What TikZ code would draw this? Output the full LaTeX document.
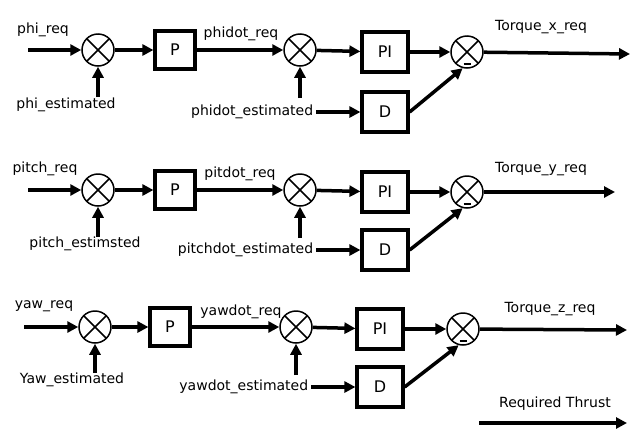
\documentclass[tikz,border=0pt]{standalone}
\usepackage{fontspec}
\setmainfont{DejaVu Sans}
\usetikzlibrary{arrows.meta,positioning}
\definecolor{inkcolor}{HTML}{000000}
\tikzset{
  lbl/.style={font=\fontsize{14}{16}\selectfont, text=inkcolor, inner sep=3pt},
  blk/.style={draw=inkcolor, line width=3.2pt, fill=white, minimum width=40pt, minimum height=38pt, inner sep=0pt, font=\fontsize{16}{18}\selectfont},
  blkwide/.style={blk, minimum width=46pt, minimum height=40pt},
  sumjn/.style={circle, draw=inkcolor, line width=1.5pt, minimum size=32pt, inner sep=0pt,
    path picture={\draw[line width=1.5pt] (path picture bounding box.north west) -- (path picture bounding box.south east)
      (path picture bounding box.north east) -- (path picture bounding box.south west);}},
  sumneg/.style={sumjn,
    path picture={\draw[line width=1.5pt] (path picture bounding box.north west) -- (path picture bounding box.south east)
      (path picture bounding box.north east) -- (path picture bounding box.south west);
      \draw[line width=2.6pt] ([xshift=-3.5pt,yshift=-12pt]path picture bounding box.center) -- ++(7pt,0pt);}},
  flow/.style={-{Triangle[length=11pt,width=11pt]}, draw=inkcolor, line width=3.5pt},
}

\begin{document}
\begin{tikzpicture}[x=1pt,y=-1pt]
  \useasboundingbox (0,0) rectangle (644,445);

  % roll
  \coordinate (in1) at (28,50);
  \coordinate (est11) at (98,97);
  \coordinate (est12) at (300,98);
  \coordinate (out1) at (630,54);
  \node[sumjn] (s11) at (98,50) {};
  \node[blk] (p1) at (175,50) {P};
  \node[sumjn] (s12) at (300,50) {};
  \node[blkwide] (pi1) at (385,52) {PI};
  \node[blkwide] (d1) at (385,112) {D};
  \node[sumneg] (s13) at (467,52) {};
  \node[lbl] at (43,30) {phi\_req};
  \node[lbl] at (66,105) {phi\_estimated};
  \node[lbl] at (241,34) {phidot\_req};
  \node[lbl, left=44pt of d1] (pde1) {phidot\_estimated};
  \node[lbl] at (541,27) {Torque\_x\_req};

  \draw[flow] (in1) -- (s11);
  \draw[flow] (est11) -- (s11);
  \draw[flow] (s11) -- (p1);
  \draw[flow] (p1) -- (s12);
  \draw[flow] (est12) -- (s12);
  \draw[flow] (s12) -- (pi1);
  \draw[flow] (pi1) -- (s13);
  \draw[flow] (pde1) -- (d1);
  \draw[flow] (d1.east) -- (s13.255);
  \draw[flow] (s13) -- (out1);

  % pitch
  \coordinate (in2) at (28,190);
  \coordinate (est21) at (98,237);
  \coordinate (est22) at (300,238);
  \coordinate (out2) at (615,192);
  \node[sumjn] (s21) at (98,190) {};
  \node[blk] (p2) at (175,190) {P};
  \node[sumjn] (s22) at (300,190) {};
  \node[blkwide] (pi2) at (385,192) {PI};
  \node[blkwide] (d2) at (385,250) {D};
  \node[sumneg] (s23) at (467,192) {};
  \node[lbl] at (45,169) {pitch\_req};
  \node[lbl] at (85,244) {pitch\_estimsted};
  \node[lbl] at (240,174) {pitdot\_req};
  \node[lbl, left=44pt of d2] (pde2) {pitchdot\_estimated};
  \node[lbl] at (541,169) {Torque\_y\_req};

  \draw[flow] (in2) -- (s21);
  \draw[flow] (est21) -- (s21);
  \draw[flow] (s21) -- (p2);
  \draw[flow] (p2) -- (s22);
  \draw[flow] (est22) -- (s22);
  \draw[flow] (s22) -- (pi2);
  \draw[flow] (pi2) -- (s23);
  \draw[flow] (pde2) -- (d2);
  \draw[flow] (d2.east) -- (s23.255);
  \draw[flow] (s23) -- (out2);

  % yaw
  \coordinate (in3) at (24,327);
  \coordinate (est31) at (95,373);
  \coordinate (est32) at (296,375);
  \coordinate (out3) at (627,330);
  \node[sumjn] (s31) at (95,327) {};
  \node[blk] (p3) at (170,327) {P};
  \node[sumjn] (s32) at (296,327) {};
  \node[blkwide] (pi3) at (380,329) {PI};
  \node[blkwide] (d3) at (380,387) {D};
  \node[sumneg] (s33) at (463,329) {};
  \node[lbl] at (44,306) {yaw\_req};
  \node[lbl] at (72,380) {Yaw\_estimated};
  \node[lbl] at (241,312) {yawdot\_req};
  \node[lbl, left=44pt of d3] (pde3) {yawdot\_estimated};
  \node[lbl] at (550,309) {Torque\_z\_req};

  \draw[flow] (in3) -- (s31);
  \draw[flow] (est31) -- (s31);
  \draw[flow] (s31) -- (p3);
  \draw[flow] (p3) -- (s32);
  \draw[flow] (est32) -- (s32);
  \draw[flow] (s32) -- (pi3);
  \draw[flow] (pi3) -- (s33);
  \draw[flow] (pde3) -- (d3);
  \draw[flow] (d3.east) -- (s33.255);
  \draw[flow] (s33) -- (out3);

  % thrust
  \coordinate (thr1) at (479,423);
  \coordinate (thr2) at (627,423);
  \node[lbl] (thrust) at (555,404) {Required Thrust};
  \draw[flow] (thr1) -- (thr2);
\end{tikzpicture}
\end{document}
